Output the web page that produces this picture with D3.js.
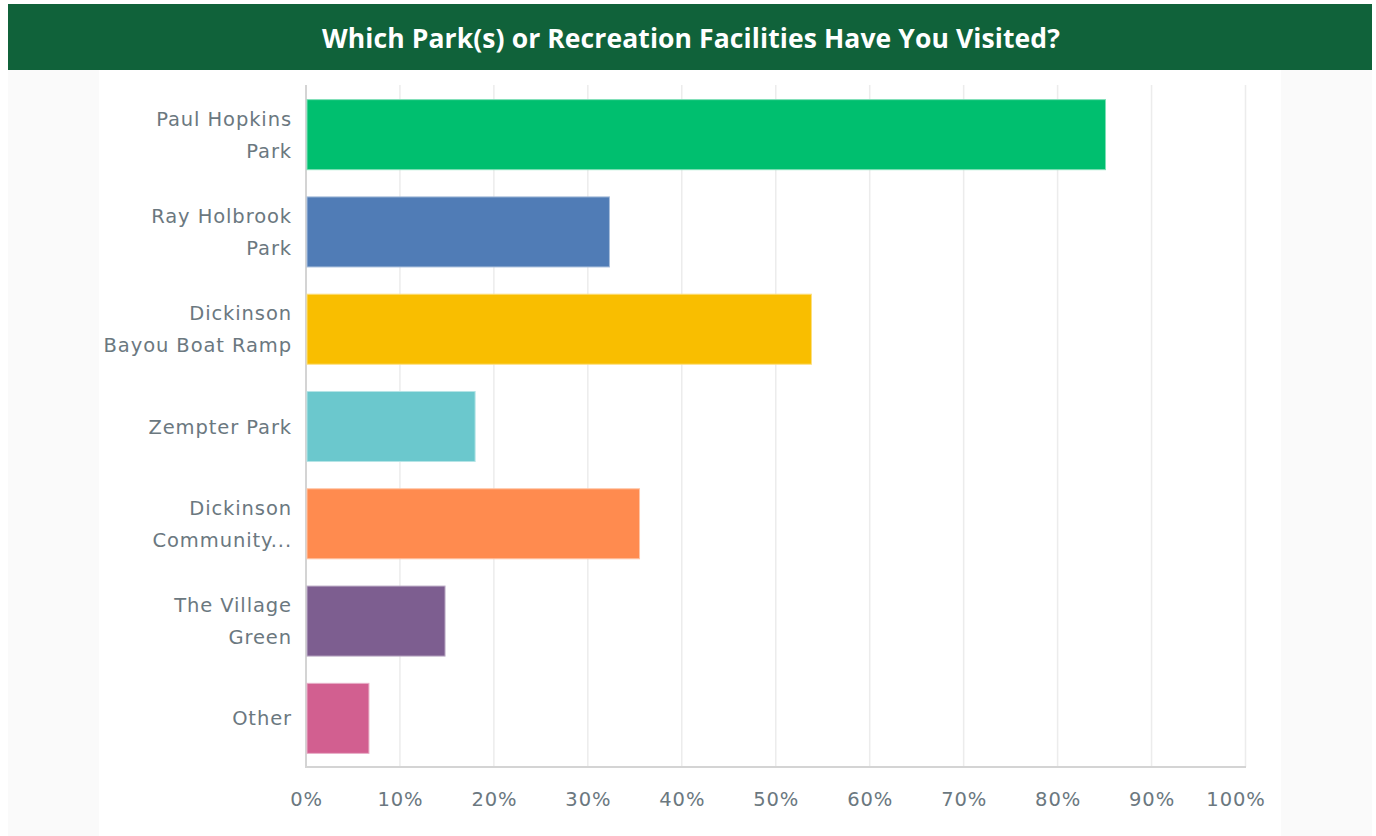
<!DOCTYPE html>
<html>
<head>
<meta charset="utf-8">
<script src="https://cdn.jsdelivr.net/npm/d3@7/dist/d3.min.js"></script>
<style>
  html, body { margin: 0; padding: 0; background: #ffffff; }
  svg { display: block; }
</style>
</head>
<body>
<svg id="chart" width="1376" height="836"></svg>
<script>
const title = "Which Park(s) or Recreation Facilities Have You Visited?";
const categories = [
  ["Paul Hopkins", "Park"],
  ["Ray Holbrook", "Park"],
  ["Dickinson", "Bayou Boat Ramp"],
  ["Zempter Park"],
  ["Dickinson", "Community..."],
  ["The Village", "Green"],
  ["Other"]
];
const values = [85.1, 32.3, 53.8, 18.0, 35.5, 14.8, 6.7];
const colors = ["#00bf6f", "#507cb6", "#f9be00", "#6bc8cd", "#ff8b4f", "#7d5e90", "#d25f90"];
const strokes = ["#7fdfb7", "#a7bddb", "#fcdf80", "#b5e4e6", "#ffc5a7", "#beaec7", "#e8afc7"];
const ticks = [0, 10, 20, 30, 40, 50, 60, 70, 80, 90, 100];

const svg = d3.select("#chart");
const labelFont = "'DejaVu Sans', 'Open Sans', sans-serif";

// backgrounds
svg.append("rect").attr("x", 0).attr("y", 0).attr("width", 1376).attr("height", 836).attr("fill", "#ffffff");
svg.append("rect").attr("x", 8).attr("y", 70).attr("width", 1364).attr("height", 766).attr("fill", "#fafafa");
svg.append("rect").attr("x", 99).attr("y", 70).attr("width", 1182).attr("height", 766).attr("fill", "#ffffff");

// header
svg.append("rect").attr("x", 8).attr("y", 4).attr("width", 1364).attr("height", 66).attr("fill", "#10623a");
svg.append("text")
  .attr("x", 691).attr("y", 38)
  .attr("text-anchor", "middle").attr("dominant-baseline", "central")
  .attr("fill", "#ffffff")
  .attr("font-family", "'Open Sans', 'Liberation Sans', sans-serif")
  .attr("font-weight", "bold").attr("font-size", 26.5)
  .attr("letter-spacing", 0.1)
  .text(title);

const x = d3.scaleLinear().domain([0, 100]).range([306, 1245.5]);
const y = d3.scaleBand().domain(d3.range(categories.length)).range([86, 767])
  .paddingInner(0.28).paddingOuter(0.14);

// gridlines
svg.append("g").selectAll("line").data(ticks).join("line")
  .attr("x1", d => x(d)).attr("x2", d => x(d))
  .attr("y1", 85).attr("y2", 767)
  .attr("stroke", d => d === 0 ? "#d4d4d4" : "#ececec")
  .attr("stroke-width", d => d === 0 ? 2 : 1.5);

// baseline
svg.append("line").attr("x1", 305).attr("x2", 1246).attr("y1", 767).attr("y2", 767)
  .attr("stroke", "#d4d4d4").attr("stroke-width", 2);

// bars
svg.append("g").selectAll("rect").data(values).join("rect")
  .attr("x", x(0) + 1)
  .attr("y", (d, i) => y(i))
  .attr("width", d => x(d) - x(0) - 1)
  .attr("height", y.bandwidth())
  .attr("fill", (d, i) => colors[i])
  .attr("stroke", (d, i) => strokes[i])
  .attr("stroke-width", 1);

// x axis labels
const xAxis = d3.axisBottom(x).tickValues(ticks).tickFormat(d => d + "%").tickSize(0).tickPadding(0);
const gx = svg.append("g").attr("transform", "translate(0,792)").call(xAxis);
gx.select(".domain").remove();
gx.selectAll("text")
  .attr("fill", "#6b787f")
  .attr("font-family", labelFont)
  .attr("font-size", 19.5)
  .attr("letter-spacing", 0.9)
  .attr("dx", d => d === 100 ? -10 : 0)
  .attr("dy", "0.71em");

// y labels
const labelG = svg.append("g")
  .attr("font-family", labelFont)
  .attr("font-size", 19.5)
  .attr("letter-spacing", 0.9)
  .attr("fill", "#6b787f")
  .attr("text-anchor", "end");
categories.forEach((lines, i) => {
  const cy = y(i) + y.bandwidth() / 2;
  const lh = 32;
  const t = labelG.append("text").attr("x", 292).attr("y", cy - (lines.length - 1) * lh / 2)
    .attr("dominant-baseline", "central");
  lines.forEach((ln, j) => {
    t.append("tspan").attr("x", 292).attr("dy", j === 0 ? 0 : lh).text(ln);
  });
});
</script>
</body>
</html>
